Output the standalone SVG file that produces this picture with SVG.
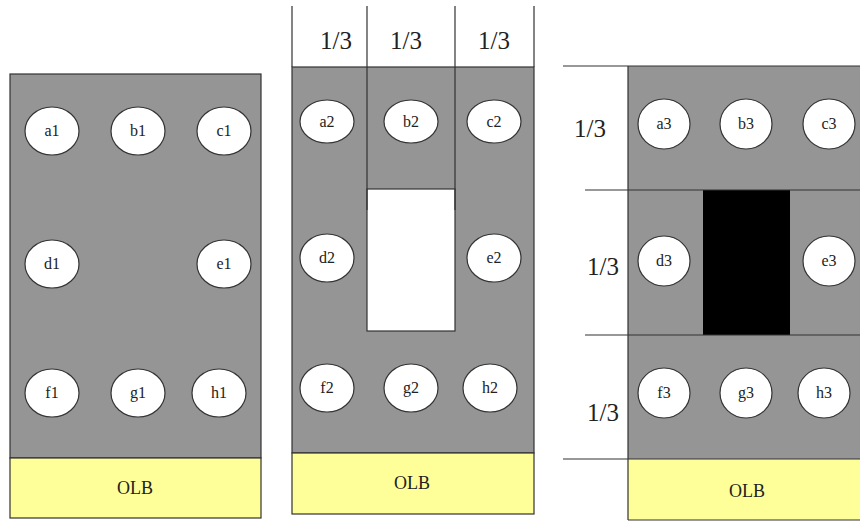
<svg xmlns="http://www.w3.org/2000/svg" width="860" height="521" viewBox="0 0 860 521">
<style>
.bg{fill:#959595;stroke:#333;stroke-width:1.2}
.olb{fill:#ffff99;stroke:#333;stroke-width:1.2}
.ln{stroke:#333;stroke-width:1.2;fill:none}
ellipse{fill:#fff;stroke:#333;stroke-width:1.2}
text{font-family:"Liberation Serif","Times New Roman",serif;fill:#222;text-anchor:middle}
.lbl{font-size:16px}
.frac{font-size:25px}
.ot{font-size:18px}
</style>
<rect width="860" height="521" fill="#fff"/>
<g id="panel1">
<rect class="bg" x="10" y="74" width="251" height="384"/>
<rect class="olb" x="10" y="458" width="251" height="60"/>
<text class="ot" x="135" y="494">OLB</text>
</g>
<g id="a1"><ellipse cx="52" cy="131" rx="27" ry="24"/><text class="lbl" x="52" y="136">a1</text></g>
<g id="b1"><ellipse cx="138" cy="131" rx="27" ry="24"/><text class="lbl" x="138" y="136">b1</text></g>
<g id="c1"><ellipse cx="224" cy="131" rx="27" ry="24"/><text class="lbl" x="224" y="136">c1</text></g>
<g id="d1"><ellipse cx="52" cy="264" rx="27" ry="24"/><text class="lbl" x="52" y="269">d1</text></g>
<g id="e1"><ellipse cx="224" cy="264" rx="27" ry="24"/><text class="lbl" x="224" y="269">e1</text></g>
<g id="f1"><ellipse cx="52" cy="393" rx="27" ry="24"/><text class="lbl" x="52" y="398">f1</text></g>
<g id="g1"><ellipse cx="138" cy="393" rx="27" ry="24"/><text class="lbl" x="138" y="398">g1</text></g>
<g id="h1"><ellipse cx="219" cy="393" rx="27" ry="24"/><text class="lbl" x="219" y="398">h1</text></g>

<g id="panel2">
<rect class="bg" x="292" y="67" width="242" height="386"/>
<rect class="olb" x="292" y="453" width="242" height="61"/>
<rect x="367" y="189" width="88" height="142" fill="#fff" stroke="#333" stroke-width="1.2"/>
<path class="ln" d="M292 6V67M367 6V210M455 6V210M534 6V67"/>
<text class="frac" x="336" y="49">1/3</text>
<text class="frac" x="406" y="49">1/3</text>
<text class="frac" x="494" y="49">1/3</text>
<text class="ot" x="412" y="489">OLB</text>
</g>
<g id="a2"><ellipse cx="327" cy="121.5" rx="27" ry="21.5"/><text class="lbl" x="327" y="126.5">a2</text></g>
<g id="b2"><ellipse cx="411" cy="121.5" rx="27" ry="21.5"/><text class="lbl" x="411" y="126.5">b2</text></g>
<g id="c2"><ellipse cx="494" cy="121.5" rx="27" ry="21.5"/><text class="lbl" x="494" y="126.5">c2</text></g>
<g id="d2"><ellipse cx="327" cy="258" rx="27" ry="24"/><text class="lbl" x="327" y="263">d2</text></g>
<g id="e2"><ellipse cx="494" cy="258" rx="27" ry="24"/><text class="lbl" x="494" y="263">e2</text></g>
<g id="f2"><ellipse cx="327" cy="388" rx="27" ry="24"/><text class="lbl" x="327" y="393">f2</text></g>
<g id="g2"><ellipse cx="411" cy="388" rx="27" ry="24"/><text class="lbl" x="411" y="393">g2</text></g>
<g id="h2"><ellipse cx="490" cy="388" rx="27" ry="24"/><text class="lbl" x="490" y="393">h2</text></g>

<g id="panel3">
<rect x="628" y="66" width="233" height="393" fill="#959595"/>
<rect x="628" y="459" width="233" height="61" fill="#ffff99"/>
<rect x="703" y="190" width="87" height="145" fill="#000"/>
<path class="ln" d="M563 66H860M585 190H860M585 335H860M563 459H860M628 66V520M628 520H860"/>
<text class="frac" x="590" y="137">1/3</text>
<text class="frac" x="603" y="275">1/3</text>
<text class="frac" x="603" y="421">1/3</text>
<text class="ot" x="747" y="497">OLB</text>
</g>
<g id="a3"><ellipse cx="664" cy="124" rx="26" ry="25"/><text class="lbl" x="664" y="129">a3</text></g>
<g id="b3"><ellipse cx="746" cy="124" rx="26" ry="25"/><text class="lbl" x="746" y="129">b3</text></g>
<g id="c3"><ellipse cx="829" cy="124" rx="26" ry="25"/><text class="lbl" x="829" y="129">c3</text></g>
<g id="d3"><ellipse cx="664" cy="261" rx="26" ry="25"/><text class="lbl" x="664" y="266">d3</text></g>
<g id="e3"><ellipse cx="829" cy="261" rx="26" ry="25"/><text class="lbl" x="829" y="266">e3</text></g>
<g id="f3"><ellipse cx="664" cy="393" rx="26" ry="25"/><text class="lbl" x="664" y="398">f3</text></g>
<g id="g3"><ellipse cx="746" cy="393" rx="26" ry="25"/><text class="lbl" x="746" y="398">g3</text></g>
<g id="h3"><ellipse cx="824" cy="393" rx="26" ry="25"/><text class="lbl" x="824" y="398">h3</text></g>
<g id="connectors"></g>
</svg>
